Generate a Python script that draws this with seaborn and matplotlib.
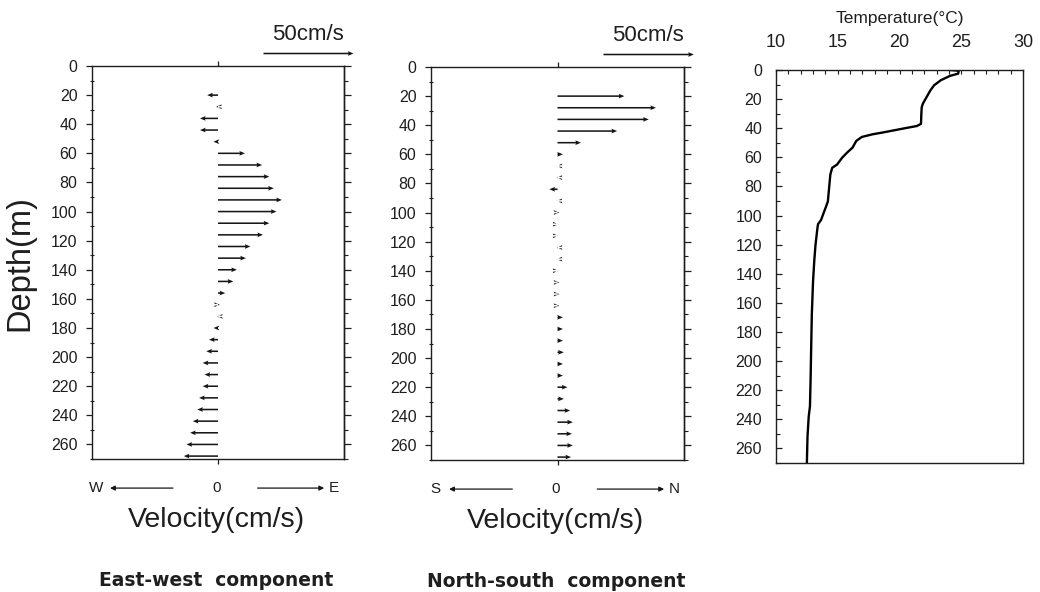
import numpy as np
import pandas as pd
import matplotlib
matplotlib.use("Agg")
import matplotlib.pyplot as plt
from matplotlib.ticker import MultipleLocator
import seaborn as sns

# ---- current-meter profiles (cm/s) at 8 m bins ----
depths = [20, 28, 36, 44, 52, 60, 68, 76, 84, 92, 100, 108, 116, 124, 132,
          140, 148, 156, 164, 172, 180, 188, 196, 204, 212, 220, 228, 236,
          244, 252, 260, 268]
east_west = [-6, -1, -10, -10, -2.5, 15, 24.5, 28.5, 31, 35.5, 32.5, 28.5,
             25, 18, 15.5, 10.5, 8.5, 4, 1, -0.5, -2.5, -5, -6.5, -8.5,
             -7.5, -8.5, -10.5, -11.5, -14, -15.5, -17.5, -19]
north_south = [37, 54.5, 50.5, 33, 13, 3, -0.5, -0.5, -4.5, -0.5, 1, 0.5,
               0.5, -0.5, -0.5, 0.5, 1, 1, 1, 3, 3, 3, 3.5, 3, 3, 5.5, 3.5,
               7, 8.5, 8, 8.5, 7.5]

# ---- temperature profile ----
temp_depth = [0, 0.5, 2.5, 4, 7, 10.5, 14, 18.5, 23, 25.5, 30, 37, 38.5,
              39.5, 41.3, 43, 44.2, 46, 48.7, 53.3, 56.8, 60.3, 64.9, 67.2,
              71.8, 81, 90.3, 95, 99.5, 103, 106, 109, 120, 131, 145, 168,
              190, 213, 231, 238, 252, 270]
temperature = [24.1, 24.8, 24.75, 24.1, 23.35, 22.8, 22.5, 22.2, 21.9, 21.8,
               21.77, 21.74, 21.4, 20.75, 19.65, 18.6, 17.8, 16.95, 16.5,
               16.2, 15.75, 15.35, 14.95, 14.55, 14.4, 14.3, 14.2, 14.0,
               13.8, 13.65, 13.4, 13.35, 13.2, 13.1, 13.0, 12.9, 12.85,
               12.8, 12.75, 12.65, 12.55, 12.5]

depth_ticks = list(range(0, 261, 20))
temp_ticks = [10, 15, 20, 25, 30]
scale_speed = 50

sns.set_theme(style="ticks")
plt.rcParams["font.family"] = ["Liberation Sans", "DejaVu Sans"]
plt.rcParams["axes.edgecolor"] = "#1e1e1e"
plt.rcParams["axes.linewidth"] = 1.0
plt.rcParams["xtick.color"] = "#1e1e1e"
plt.rcParams["ytick.color"] = "#1e1e1e"
plt.rcParams["text.color"] = "#1e1e1e"

W, H = 1040, 592
fig = plt.figure(figsize=(W / 100, H / 100), dpi=100)


def rect(left, top, right, bottom):
    return [left / W, 1 - bottom / H, (right - left) / W, (bottom - top) / H]


ax1 = fig.add_axes(rect(92, 66, 344, 459))
ax2 = fig.add_axes(rect(431, 67, 684, 460))
ax3 = fig.add_axes(rect(776, 70, 1023, 463))

ink = "#151515"
# short vectors keep a full-size head so they read as small chevrons
arrow_kw = dict(angles="xy", scale_units="xy", scale=1, pivot="tail",
                width=0.0062, headwidth=3.0, headlength=3.6,
                headaxislength=3.2, minshaft=0.15, minlength=0, color=ink)


def velocity_panel(ax, u, neg, pos, title):
    df = pd.DataFrame({"depth": depths, "u": u})
    ax.quiver(np.zeros(len(df)), df["depth"], df["u"], np.zeros(len(df)),
              **arrow_kw)
    ax.set_xlim(-70, 70)
    ax.set_ylim(270, 0)

    # depth ticks on the left, plain ticks on the right
    ax.set_yticks(depth_ticks)
    ax.yaxis.set_minor_locator(MultipleLocator(10))
    ax.tick_params(axis="y", which="major", direction="out", length=4,
                   width=0.9, pad=6.5, labelsize=11.5)
    ax.tick_params(axis="y", which="minor", direction="inout", length=3,
                   width=0.8)
    right = ax.secondary_yaxis("right")
    right.set_yticks(list(range(0, 271, 20)))
    right.yaxis.set_minor_locator(MultipleLocator(10))
    right.tick_params(which="major", direction="out", length=4.8, width=0.9,
                      labelright=False)
    right.tick_params(which="minor", direction="out", length=3, width=0.8)

    # zero tick on top and bottom only
    ax.set_xticks([0])
    ax.tick_params(axis="x", top=True, bottom=True, direction="out",
                   length=3.5, width=0.9, labelbottom=False, labeltop=False)
    for s in ax.spines.values():
        s.set_visible(True)

    # 50 cm/s scale arrow above the frame
    sa = ax.quiver([25], [-9], [scale_speed], [0], **arrow_kw)
    sa.set_clip_on(False)
    ax.text(25 + scale_speed / 2, -21.5, f"{scale_speed}cm/s", ha="center",
            va="center", fontsize=16)

    tr = ax.get_xaxis_transform()
    yrow = -0.074
    ax.text(-67.5, yrow, neg, transform=tr, ha="center", va="center",
            fontsize=11)
    ax.text(64.5, yrow, pos, transform=tr, ha="center", va="center",
            fontsize=11)
    ax.text(-1, yrow, "0", transform=tr, ha="center", va="center",
            fontsize=11)
    head = dict(arrowstyle="-|>", lw=0.9, color=ink, mutation_scale=7,
                shrinkA=0, shrinkB=0)
    ax.annotate("", xy=(-60, yrow), xytext=(-25, yrow), xycoords=tr,
                textcoords=tr, arrowprops=head, annotation_clip=False)
    ax.annotate("", xy=(59, yrow), xytext=(22, yrow), xycoords=tr,
                textcoords=tr, arrowprops=head, annotation_clip=False)
    ax.text(-1, -0.155, "Velocity(cm/s)", transform=tr, ha="center",
            va="center", fontsize=20.5)
    ax.text(-1, -0.31, title, transform=tr, ha="center", va="center",
            fontsize=13.5, fontweight="bold", family="DejaVu Sans")


velocity_panel(ax1, east_west, "W", "E", "East-west  component")
velocity_panel(ax2, north_south, "S", "N", "North-south  component")

# temperature panel
tdf = pd.DataFrame({"temperature": temperature, "depth": temp_depth})
sns.lineplot(data=tdf, x="temperature", y="depth", orient="y", sort=False,
             estimator=None, color="black", lw=1.7, ax=ax3)
ax3.set_xlim(10, 30)
ax3.set_ylim(270, 0)
ax3.set_xlabel("")
ax3.set_ylabel("")
ax3.xaxis.set_ticks_position("top")
ax3.set_xticks(temp_ticks)
ax3.xaxis.set_minor_locator(MultipleLocator(1))
ax3.tick_params(axis="x", which="both", direction="in", length=2.6,
                width=0.8, top=True, bottom=False, labeltop=True,
                labelbottom=False, pad=14, labelsize=13)
ax3.set_yticks(depth_ticks)
ax3.yaxis.set_minor_locator(MultipleLocator(10))
ax3.tick_params(axis="y", which="major", direction="in", length=4,
                width=0.9, left=True, right=False, pad=10, labelsize=11.5)
ax3.tick_params(axis="y", which="minor", direction="in", length=3,
                width=0.8, left=True, right=False)
for s in ax3.spines.values():
    s.set_visible(True)
ax3.text(0.5, 1 + 52 / 393, "Temperature(°C)", transform=ax3.transAxes,
         ha="center", va="center", fontsize=12.5)

fig.text(20 / W, 1 - 263 / H, "Depth(m)", rotation=90, ha="center",
         va="center", fontsize=23.5)

fig.savefig("out.png", dpi=100, facecolor="white")
